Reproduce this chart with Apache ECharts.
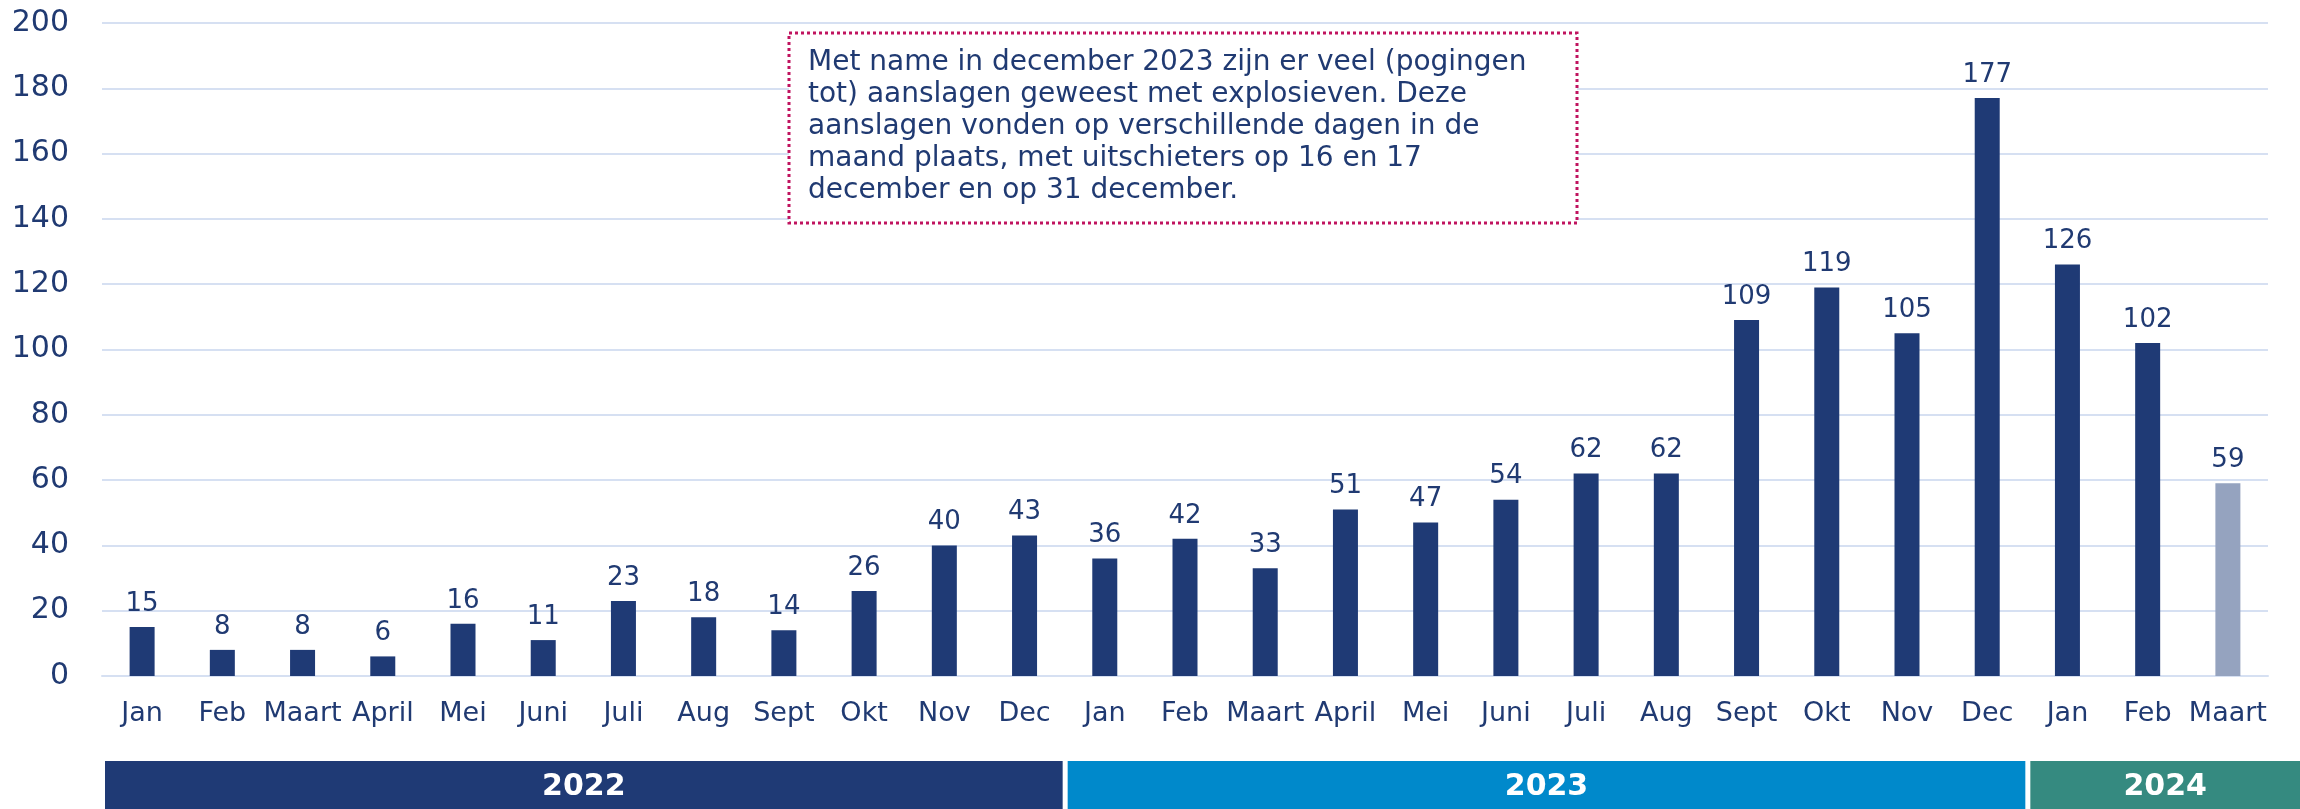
<!DOCTYPE html>
<html>
<head>
<meta charset="utf-8">
<script src="https://cdn.jsdelivr.net/npm/echarts@6/dist/echarts.min.js"></script>
<style>
  html, body { margin: 0; padding: 0; background: #fff; }
  #main { width: 2300px; height: 809px; }
</style>
</head>
<body>
<div id="main"></div>
<script>
// maanden en aantallen
var months = ['Jan', 'Feb', 'Maart', 'April', 'Mei', 'Juni', 'Juli', 'Aug', 'Sept', 'Okt', 'Nov', 'Dec',
              'Jan', 'Feb', 'Maart', 'April', 'Mei', 'Juni', 'Juli', 'Aug', 'Sept', 'Okt', 'Nov', 'Dec',
              'Jan', 'Feb', 'Maart'];
var counts2022 = [15, 8, 8, 6, 16, 11, 23, 18, 14, 26, 40, 43];
var counts2023 = [36, 42, 33, 51, 47, 54, 62, 62, 109, 119, 105, 177];
var counts2024 = [126, 102, 59];
var yTicks = [0, 20, 40, 60, 80, 100, 120, 140, 160, 180, 200];

// jaren onder de as: eerste en laatste maand-index
var years = ['2022', '2023', '2024'];
var yearStart = [0, 12, 24];
var yearEnd = [11, 23, 26];
var yearColors = ['#1f3a75', '#0089cb', '#358a80'];

var note = 'Met name in december 2023 zijn er veel (pogingen\ntot) aanslagen geweest met explosieven. Deze\naanslagen vonden op verschillende dagen in de\nmaand plaats, met uitschieters op 16 en 17\ndecember en op 31 december.';

var navy = '#1f3a75';
var textColor = '#203a72';
var font = 'DejaVu Sans';

var values = counts2022.concat(counts2023).concat(counts2024);
var barData = values.map(function (v, i) {
    if (i === values.length - 1) {
        return { value: v, itemStyle: { color: '#95a3bf' } };
    }
    return v;
});

var yearData = years.map(function (y, i) {
    return [yearStart[i], yearEnd[i], 0];
});

var myChart = echarts.init(document.getElementById('main'));

var option = {
    animation: false,
    backgroundColor: '#fff',
    textStyle: { fontFamily: font },
    grid: { left: 102, right: 32, top: 23, bottom: 133 },
    xAxis: {
        type: 'category',
        data: months,
        axisLine: { lineStyle: { color: '#d6e0f2', width: 2 } },
        axisTick: { show: false },
        axisLabel: { color: textColor, fontSize: 27, margin: 24, interval: 0, fontFamily: font }
    },
    yAxis: {
        type: 'value',
        min: yTicks[0],
        max: yTicks[yTicks.length - 1],
        interval: 20,
        axisLine: { show: false },
        axisTick: { show: false },
        axisLabel: { color: textColor, fontSize: 30, margin: 33, fontFamily: font },
        splitLine: { lineStyle: { color: '#d6e0f2', width: 2 } }
    },
    series: [
        {
            name: 'aanslagen',
            type: 'bar',
            data: barData,
            barWidth: 25,
            itemStyle: { color: navy },
            label: {
                show: true,
                position: 'top',
                distance: 10,
                color: textColor,
                fontSize: 26,
                fontFamily: font
            }
        },
        {
            name: 'jaren',
            type: 'custom',
            data: yearData,
            encode: { x: [0, 1], y: 2 },
            clip: false,
            silent: true,
            renderItem: function (params, api) {
                var bw = api.size([1, 0])[0];
                var x0 = api.coord([api.value(0), 0])[0] - bw / 2 + 3;
                var x1 = api.coord([api.value(1), 0])[0] + bw / 2 - 2;
                if (params.dataIndex === years.length - 1) {
                    x1 = api.getWidth();
                }
                var y0 = api.coord([0, 0])[1] + 85;
                var h = api.getHeight() - y0;
                return {
                    type: 'group',
                    children: [
                        {
                            type: 'rect',
                            shape: { x: x0, y: y0, width: x1 - x0, height: h },
                            style: { fill: yearColors[params.dataIndex] }
                        },
                        {
                            type: 'text',
                            x: (x0 + x1) / 2,
                            y: y0 + h / 2 + 2,
                            style: {
                                text: years[params.dataIndex],
                                fill: '#fff',
                                fontSize: 30,
                                fontWeight: 'bold',
                                fontFamily: font,
                                align: 'center',
                                verticalAlign: 'middle'
                            }
                        }
                    ]
                };
            }
        }
    ],
    graphic: [
        {
            type: 'rect',
            shape: { x: 789, y: 33, width: 788, height: 190 },
            style: { fill: '#fff', stroke: '#c0135f', lineWidth: 3, lineDash: [3, 3] },
            z: 10
        },
        {
            type: 'text',
            x: 808,
            y: 47,
            z: 11,
            style: {
                text: note,
                fill: textColor,
                fontSize: 28,
                lineHeight: 32,
                fontFamily: font
            }
        }
    ]
};

myChart.setOption(option);
</script>
</body>
</html>
